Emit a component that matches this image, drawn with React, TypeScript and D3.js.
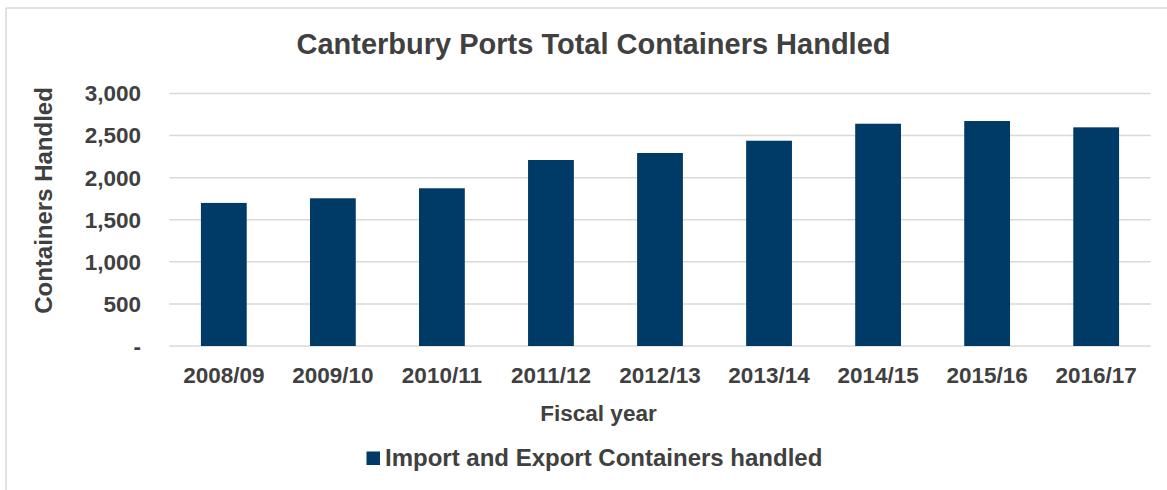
import React from "react";
import * as d3 from "d3";

const categories = ["2008/09", "2009/10", "2010/11", "2011/12", "2012/13", "2013/14", "2014/15", "2015/16", "2016/17"];
const values = [1700, 1755, 1874, 2210, 2293, 2439, 2641, 2673, 2598];
const yTicks = [0, 500, 1000, 1500, 2000, 2500, 3000];
const seriesName = "Import and Export Containers handled";
const title = "Canterbury Ports Total Containers Handled";

const W = 1167;
const H = 490;
const left = 169.3;
const right = 1150.7;
const top = 93.5;
const bottom = 346;
const barColor = "#003a66";
const textColor = "#404040";
const font = "'Liberation Sans', Arial, sans-serif";

export default function App() {
  const x = d3.scaleBand<string>().domain(categories).range([left, right]).paddingInner(0.58).paddingOuter(0.29);
  const y = d3.scaleLinear().domain([0, 3000]).range([bottom, top]);
  const fmt = (v: number) => (v === 0 ? "-" : d3.format(",")(v));
  return (
    <svg width={W} height={H} style={{ position: "absolute", left: 0, top: 0 }} fontFamily={font}>
      <rect x={0} y={0} width={W} height={H} fill="#fff" />
      <line x1={6} x2={6} y1={8} y2={H} stroke="#d9d9d9" strokeWidth={1.5} />
      <line x1={6} x2={W} y1={8} y2={8} stroke="#d9d9d9" strokeWidth={1.5} />
      <text x={593.5} y={53.5} textAnchor="middle" fontSize={29} fontWeight="bold" fill={textColor}>{title}</text>
      {yTicks.map((t) => (
        <g key={t}>
          <line x1={left} x2={right} y1={y(t)} y2={y(t)} stroke="#d9d9d9" strokeWidth={1.5} />
          <text x={141} y={y(t)} dy="0.35em" textAnchor="end" fontSize={22.5} fontWeight="bold" fill={textColor}>{fmt(t)}</text>
        </g>
      ))}
      {categories.map((c, i) => (
        <g key={c}>
          <rect x={x(c)} y={y(values[i])} width={x.bandwidth()} height={y(0) - y(values[i])} fill={barColor} />
          <text x={(x(c) as number) + x.bandwidth() / 2} y={382.5} textAnchor="middle" fontSize={22.5} fontWeight="bold" fill={textColor}>{c}</text>
        </g>
      ))}
      <text transform={`translate(52,200.5) rotate(-90)`} textAnchor="middle" fontSize={24} fontWeight="bold" fill={textColor}>Containers Handled</text>
      <text x={598.5} y={421} textAnchor="middle" fontSize={22.5} fontWeight="bold" fill={textColor}>Fiscal year</text>
      <rect x={366.5} y={451.5} width={13.5} height={13.5} fill={barColor} />
      <text x={385} y={466} fontSize={24} fontWeight="bold" fill={textColor}>{seriesName}</text>
    </svg>
  );
}
